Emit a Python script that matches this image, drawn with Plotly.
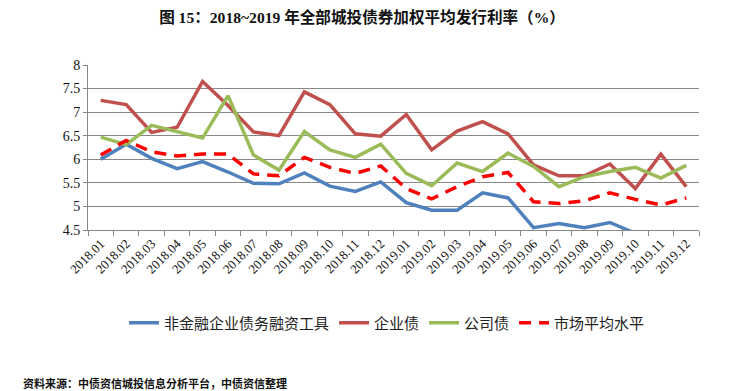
import plotly.graph_objects as go

months = ["2018.01","2018.02","2018.03","2018.04","2018.05","2018.06","2018.07","2018.08",
          "2018.09","2018.10","2018.11","2018.12","2019.01","2019.02","2019.03","2019.04",
          "2019.05","2019.06","2019.07","2019.08","2019.09","2019.10","2019.11","2019.12"]

nonfin = [6.00, 6.32, 6.02, 5.80, 5.95, 5.73, 5.49, 5.48, 5.71, 5.43, 5.32, 5.52,
          5.08, 4.92, 4.92, 5.29, 5.18, 4.55, 4.64, 4.55, 4.66, 4.43, None, None]
enterprise = [7.25, 7.16, 6.57, 6.68, 7.65, 7.14, 6.58, 6.50, 7.43, 7.16, 6.54, 6.49,
              6.95, 6.20, 6.60, 6.80, 6.54, 5.88, 5.65, 5.65, 5.90, 5.38, 6.11, 5.42]
corporate = [6.47, 6.31, 6.72, 6.59, 6.45, 7.35, 6.09, 5.77, 6.59, 6.20, 6.04, 6.32,
             5.70, 5.44, 5.92, 5.74, 6.13, 5.85, 5.42, 5.63, 5.74, 5.83, 5.60, 5.87]
market = [6.09, 6.40, 6.16, 6.07, 6.11, 6.11, 5.69, 5.65, 6.04, 5.83, 5.70, 5.86,
          5.38, 5.16, 5.42, 5.63, 5.72, 5.10, 5.06, 5.12, 5.29, 5.15, 5.03, 5.18]

y_ticks = [4.5, 5, 5.5, 6, 6.5, 7, 7.5, 8]
y_labels = ["4.5", "5", "5.5", "6", "6.5", "7", "7.5", "8"]

series = [
    ("非金融企业债务融资工具", nonfin, "#4F81BD", "solid"),
    ("企业债", enterprise, "#C0504D", "solid"),
    ("公司债", corporate, "#9BBB59", "solid"),
    ("市场平均水平", market, "#FF0000", "12px,8px"),
]

# The page body has an 8px margin, so the figure is 8px smaller and offset.
W, H = 737, 383
L, R, T, B = 80, 46, 57, 161
PW, PH = W - L - R, H - T - B

fig = go.Figure()
for name, vals, color, dash in series:
    fig.add_trace(go.Scatter(
        x=months, y=vals, name=name, mode="lines",
        line=dict(color=color, width=3.5, dash=dash),
        connectgaps=False,
    ))

fig.update_layout(
    width=W, height=H,
    margin=dict(l=L, r=R, t=T, b=B),
    paper_bgcolor="white", plot_bgcolor="white",
    title=dict(
        text="<b>图 15：2018~2019 年全部城投债券加权平均发行利率（%）</b>",
        x=(362 - 8) / W, xanchor="center", y=1 - 10 / H, yanchor="middle",
        font=dict(family="Liberation Serif, Noto Sans CJK SC", size=15.6, color="#111"),
    ),
    showlegend=True,
    legend=dict(
        orientation="h", x=(387 - 8 - L) / PW, xanchor="center",
        y=-(315 - (T + PH)) / PH, yanchor="middle",
        font=dict(family="Noto Sans CJK SC", size=15, color="#222"),
        bgcolor="rgba(0,0,0,0)", tracegroupgap=0,
    ),
    xaxis=dict(
        type="category", tickangle=-45,
        tickfont=dict(family="Liberation Serif", size=13, color="#111"),
        showgrid=False, showline=True, linecolor="#878787", linewidth=1,
        ticks="outside", tickson="boundaries", ticklen=5, tickcolor="#878787",
        range=[-0.5, 23.5], zeroline=False,
    ),
    yaxis=dict(
        range=[4.5, 8], tickvals=y_ticks, ticktext=y_labels,
        tickfont=dict(family="Liberation Serif", size=14, color="#111"),
        showgrid=True, gridcolor="#878787", gridwidth=1,
        showline=True, linecolor="#878787", linewidth=1,
        ticks="outside", ticklen=4, tickcolor="#878787", zeroline=False,
    ),
    annotations=[dict(
        text="<b>资料来源：中债资信城投信息分析平台，中债资信整理</b>",
        xref="paper", yref="paper", x=(13 - L) / PW, y=-(375 - (T + PH)) / PH,
        xanchor="left", yanchor="middle", showarrow=False,
        font=dict(family="Noto Sans CJK SC", size=11, color="#111"),
    )],
)

fig.write_html("out.html")
